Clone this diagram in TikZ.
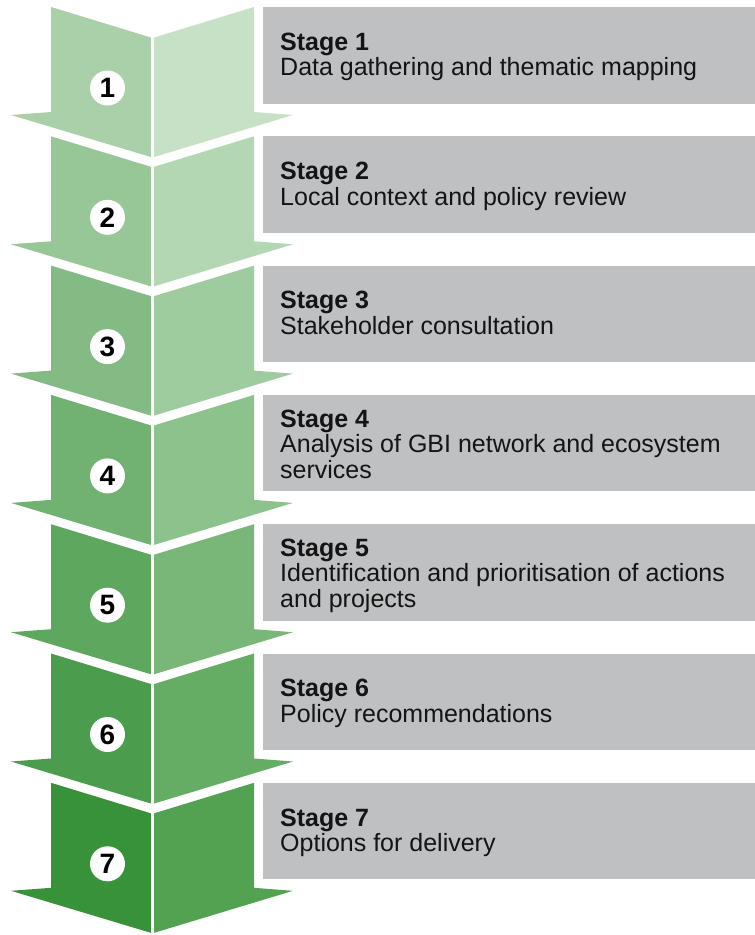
\documentclass[tikz,border=0pt]{standalone}
\usepackage{fontspec}
\setmainfont{Liberation Sans}
\definecolor{lA}{RGB}{170,208,170}
\definecolor{lB}{RGB}{56,146,58}
\definecolor{rA}{RGB}{198,225,198}
\definecolor{rB}{RGB}{82,162,82}
\definecolor{boxgray}{RGB}{191,192,194}
\tikzset{
  stagebox/.style={fill=boxgray, draw=none},
  stagetext/.style={anchor=north west, inner sep=0pt, align=left, font=\fontsize{25}{25.5}\selectfont, text=black!92},
  numcirc/.style={circle, fill=white, draw=none, minimum size=35pt, inner sep=0pt, font=\fontsize{28}{28}\selectfont\bfseries, text=black},
  divider/.style={white, line width=3.5pt}
}
\begin{document}
\begin{tikzpicture}[x=1pt,y=-1pt]
\fill[white] (0,0) rectangle (755,935);
\useasboundingbox (0,0) rectangle (755,935);
\foreach \k/\txt/\off in {
  1/{Data gathering and thematic mapping}/43,
  2/{Local context and policy review}/43,
  3/{Stakeholder consultation}/43,
  4/{Analysis of GBI network and ecosystem\\services}/32,
  5/{Identification and prioritisation of actions\\and projects}/32,
  6/{Policy recommendations}/43,
  7/{Options for delivery}/43}{
  \pgfmathsetmacro\T{7+(\k-1)*129.3}
  \pgfmathsetmacro\p{(\k-1)/6*100}
  \colorlet{cl}{lB!\p!lA}
  \colorlet{cr}{rB!\p!rA}
  \fill[cl] (51,\T) -- (152.5,\T+31) -- (152.5,\T+150.5) -- (11,\T+108) -- (51,\T+105) -- cycle;
  \fill[cr] (254,\T) -- (152.5,\T+31) -- (152.5,\T+150.5) -- (293,\T+108) -- (254,\T+105) -- cycle;
  \fill[stagebox] (263,\T) rectangle (755,\T+96.5);
  \node[stagetext] (t\k) at (280,\T+\off-20) {\rule{0pt}{20pt}\textbf{Stage \k}\\\txt};
  \node[numcirc] (n\k) at (107.5,\T+81) {\k};
}
\draw[divider] (152.5,0) -- (152.5,935);
\end{tikzpicture}
\end{document}
